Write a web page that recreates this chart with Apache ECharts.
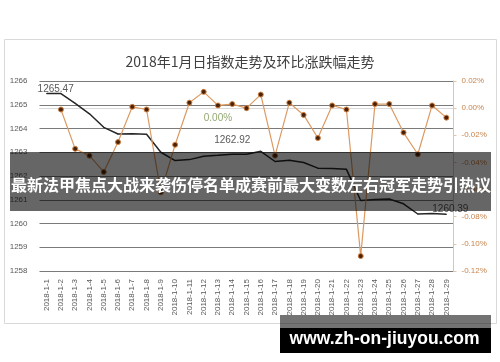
<!DOCTYPE html>
<html><head><meta charset="utf-8">
<script src="https://cdn.jsdelivr.net/npm/echarts@6/dist/echarts.min.js"></script>
<style>html,body{margin:0;padding:0;background:#fff}#c{width:500px;height:362px}</style>
</head><body><div id="c"></div>
<script>
const categories = ['2018-1-1','2018-1-2','2018-1-3','2018-1-4','2018-1-5','2018-1-6','2018-1-7','2018-1-8','2018-1-9','2018-1-10','2018-1-11','2018-1-12','2018-1-13','2018-1-14','2018-1-15','2018-1-16','2018-1-17','2018-1-18','2018-1-19','2018-1-20','2018-1-21','2018-1-22','2018-1-23','2018-1-24','2018-1-25','2018-1-26','2018-1-27','2018-1-28','2018-1-29'];
const indexValues = [1265.47,1265.47,1265.06,1264.62,1264.05,1263.77,1263.78,1263.76,1263.00,1262.65,1262.69,1262.83,1262.87,1262.92,1262.92,1263.04,1262.61,1262.66,1262.57,1262.33,1262.32,1262.28,1260.97,1261.01,1261.03,1260.83,1260.40,1260.42,1260.39];
const ratioValues = [null,-0.001,-0.030,-0.035,-0.047,-0.025,0.001,-0.001,-0.062,-0.027,0.004,0.012,0.002,0.003,0.000,0.010,-0.035,0.004,-0.005,-0.022,0.002,-0.001,-0.109,0.003,0.003,-0.018,-0.034,0.002,-0.007];
const leftTicks = {min:1258, max:1266, interval:1};
const rightTicks = {min:-0.12, max:0.02, interval:0.02};
const titleText = '2018年1月日指数走势及环比涨跌幅走势';
const bannerText = '最新法甲焦点大战来袭伤停名单成赛前最大变数左右冠军走势引热议';
const siteText = 'www.zh-on-jiuyou.com';

const axisFont = "'Liberation Sans Narrow','Liberation Sans',sans-serif";
const lblFont = "'Liberation Sans',sans-serif";

const idxLabelCfg = {
  0: {show:true, position:'top', distance:0, offset:[9,1]},
  13: {show:true, position:'top', distance:8},
  28: {show:true, position:'top', distance:0, offset:[4,1]}
};
const ratioLabelCfg = {
  12: {show:true, position:'bottom', distance:5}
};

const idxData = indexValues.map((v,i)=> idxLabelCfg[i] ? {value:v, label:Object.assign({color:'#595959', fontSize:10, fontFamily:lblFont, formatter:p=>p.value.toFixed(2)}, idxLabelCfg[i])} : v);
const ratioData = ratioValues.map((v,i)=> ratioLabelCfg[i] ? {value:v, label:Object.assign({color:'#93a870', fontSize:10, fontFamily:lblFont, formatter:p=>p.value.toFixed(2)+'%'}, ratioLabelCfg[i])} : v);

const chart = echarts.init(document.getElementById('c'), null, {renderer:'canvas'});
chart.setOption({
  animation:false,
  backgroundColor:'#fff',
  title:{text:titleText, left:'center', top:50, textStyle:{fontSize:14, fontWeight:'normal', color:'#404040', fontFamily:"'Noto Sans CJK SC',sans-serif"}},
  grid:{left:39.5, right:46.5, top:81, bottom:91},
  xAxis:{type:'category', data:categories, boundaryGap:true,
    axisLine:{show:true, lineStyle:{color:'#d9d9d9'}}, axisTick:{show:false},
    axisLabel:{rotate:90, interval:0, fontSize:8, color:'#595959', margin:8, fontFamily:axisFont}},
  yAxis:[
    {type:'value', min:leftTicks.min, max:leftTicks.max, interval:leftTicks.interval,
     axisLine:{show:false}, axisTick:{show:false},
     axisLabel:{fontSize:8, color:'#595959', margin:12, fontFamily:axisFont, formatter:v=>String(v)},
     splitLine:{show:true, lineStyle:{color:'#7a7a7a', width:1}}},
    {type:'value', min:rightTicks.min, max:rightTicks.max, interval:rightTicks.interval, position:'right',
     axisLine:{show:true, lineStyle:{color:'#e6c3a5'}}, axisTick:{show:true, length:3, lineStyle:{color:'#e6c3a5'}},
     axisLabel:{fontSize:8, color:'#c8844c', margin:8, fontFamily:axisFont, formatter:v=>v.toFixed(2)+'%'},
     splitLine:{show:false}}
  ],
  series:[
    {type:'line', name:'指数', yAxisIndex:0, data:idxData, showSymbol:true, symbol:'circle', symbolSize:1,
     itemStyle:{color:'#262626'},
     lineStyle:{color:'#262626', width:1.5}, z:2},
    {type:'line', name:'环比', yAxisIndex:1, data:ratioData, connectNulls:false,
     symbol:'circle', symbolSize:5, showSymbol:true,
     lineStyle:{color:'#dc9a62', width:1.2},
     itemStyle:{color:'#4a2208', borderColor:'#d08040', borderWidth:1}, z:3}
  ],
  graphic:[
    {type:'rect', z:-10, shape:{x:4.5, y:39.5, width:492, height:284}, style:{fill:'#fff', stroke:'#d9d9d9', lineWidth:1}},
    {type:'rect', z:100, shape:{x:10, y:152, width:481, height:59}, style:{fill:'rgba(0,0,0,0.6)'}},
    {type:'text', z:101, x:11, y:185, style:{text:bannerText, fill:'#fff', font:"bold 16px 'Noto Sans CJK SC',sans-serif", textVerticalAlign:'middle', textAlign:'left'}},
    {type:'rect', z:100, shape:{x:280, y:315, width:211, height:13}, style:{fill:'rgba(0,0,0,0.55)'}},
    {type:'rect', z:100, shape:{x:280, y:328, width:211, height:25}, style:{fill:'#000'}},
    {type:'text', z:101, x:384.5, y:339, style:{text:siteText, fill:'#fff', font:"bold 17.5px 'Liberation Sans',Arial,sans-serif", textVerticalAlign:'middle', textAlign:'center'}}
  ]
});
</script></body></html>
